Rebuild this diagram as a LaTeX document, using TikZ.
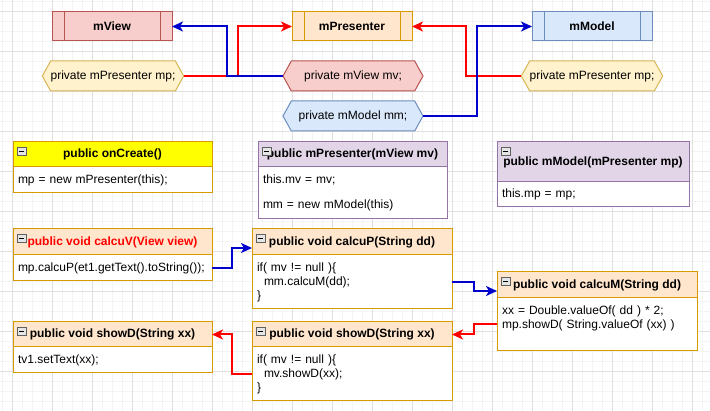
\documentclass[tikz,border=0pt]{standalone}
\usepackage{fontspec}
\setmainfont{Liberation Sans}
\usetikzlibrary{arrows.meta,shapes.symbols}
\definecolor{gridmaj}{HTML}{E0E0E0}
\definecolor{gridmin}{HTML}{F4F4F4}
\definecolor{redfill}{HTML}{F8CECC}
\definecolor{redline}{HTML}{B85450}
\definecolor{orfill}{HTML}{FFE6CC}
\definecolor{orline}{HTML}{D79B00}
\definecolor{bluefill}{HTML}{DAE8FC}
\definecolor{blueline}{HTML}{6C8EBF}
\definecolor{yelfill}{HTML}{FFF2CC}
\definecolor{yelline}{HTML}{D6B656}
\definecolor{purfill}{HTML}{E1D5E7}
\definecolor{purline}{HTML}{9673A6}
\definecolor{brightyel}{HTML}{FFFF00}
\definecolor{arrred}{HTML}{FF0000}
\definecolor{arrblue}{HTML}{0000CC}
\begin{document}
\begin{tikzpicture}[x=1pt,y=-1pt,
  every node/.style={font=\fontsize{12}{14}\selectfont, outer sep=0pt},
  procbox/.style={rectangle, draw, line width=1pt, minimum width=120, minimum height=29, anchor=north west, inner sep=0pt, font=\fontsize{12}{14}\selectfont\bfseries},
  hexbox/.style={signal, signal to=west and east, signal pointer angle=122, minimum width=140, minimum height=30, inner sep=0pt, line width=1pt, draw},
  hdr/.style={rectangle, draw, line width=1pt, anchor=north west, inner sep=0pt, font=\fontsize{12}{14}\selectfont\bfseries},
  bodybox/.style={rectangle, draw, line width=1pt, fill=white, anchor=north west, inner xsep=5pt, inner ysep=0pt, align=left},
  conn/.style={line width=2pt, -{Stealth[length=11pt,width=10pt,inset=3pt]}},
  minusicon/.style={draw=gray!75!black, fill=gray!20, line width=0.6pt}
]
\useasboundingbox (0,0) rectangle (710,411);
\fill[white] (0,0) rectangle (710,411);
% grid
\foreach \x in {2,12,...,702} \draw[gridmin, line width=0.8pt] (\x,0) -- (\x,411);
\foreach \y in {1,11,...,411} \draw[gridmin, line width=0.8pt] (0,\y) -- (710,\y);
\foreach \x in {12,52,...,692} \draw[gridmaj, line width=0.8pt] (\x,0) -- (\x,411);
\foreach \y in {11,51,...,411} \draw[gridmaj, line width=0.8pt] (0,\y) -- (710,\y);

% top row
\node[procbox, fill=redfill, draw=redline] (mview) at (52,12) {mView};
\node[procbox, fill=orfill, draw=orline] (mpres) at (292,12) {mPresenter};
\node[procbox, fill=bluefill, draw=blueline] (mmodel) at (532,12) {mModel};
\foreach \n/\c in {mview/redline, mpres/orline, mmodel/blueline}{
  \draw[draw=\c, line width=1pt] ([xshift=12pt]\n.north west) -- ([xshift=12pt]\n.south west);
  \draw[draw=\c, line width=1pt] ([xshift=-12pt]\n.north east) -- ([xshift=-12pt]\n.south east);
}

% hexagons
\node[hexbox, fill=yelfill, draw=yelline] (hexL) at (113,76) {private mPresenter mp;};
\node[hexbox, fill=redfill, draw=redline] (hexMV) at (353,76) {private mView mv;};
\node[hexbox, fill=bluefill, draw=blueline] (hexMM) at (353,116) {private mModel mm;};
\node[hexbox, fill=yelfill, draw=yelline] (hexR) at (592,76) {private mPresenter mp;};

% top connectors
\draw[conn, arrred] (hexL.east) -- ++(54,0) |- (mpres.west);
\draw[conn, arrblue] (hexMV.west) -- ++(-56,0) |- (mview.east);
\draw[conn, arrred] (hexR.west) -- ++(-55,0) |- (mpres.east);
\draw[conn, arrblue] (hexMM.east) -- ++(54,0) |- (mmodel.west);

% class boxes
\node[hdr, fill=brightyel, draw=orline, minimum width=199, minimum height=25] (onch) at (13,142) {public onCreate()};
\node[bodybox, draw=orline, text width=189pt, minimum height=26] (oncb) at (13,167) {mp = new mPresenter(this);};

\node[hdr, fill=purfill, draw=purline, minimum width=189, minimum height=25] (mpch) at (258,142) {public mPresenter(mView mv)};
\node[bodybox, draw=purline, text width=179pt, minimum height=52] (mpcb) at (258,167) {this.mv = mv;\\[11pt]mm = new mModel(this)};

\node[hdr, fill=purfill, draw=purline, minimum width=192, minimum height=40] (mmch) at (497,142) {public mModel(mPresenter mp)};
\node[bodybox, draw=purline, text width=182pt, minimum height=25] (mmcb) at (497,182) {this.mp = mp;};

\node[hdr, fill=orfill, draw=orline, minimum width=199, minimum height=26, text=arrred] (cvh) at (13,229) {public void calcuV(View view)};
\node[bodybox, draw=orline, text width=189pt, minimum height=26] (cvb) at (13,255) {mp.calcuP(et1.getText().toString());};

\node[hdr, fill=orfill, draw=orline, minimum width=200, minimum height=26] (cph) at (252,229) {public void calcuP(String dd)};
\node[bodybox, draw=orline, text width=190pt, minimum height=54] (cpb) at (252,255) {if( mv != null )\{\\\hspace*{7pt}mm.calcuM(dd);\\\}};

\node[hdr, fill=orfill, draw=orline, minimum width=200, minimum height=26] (cmh) at (497,272) {public void calcuM(String dd)};
\node[bodybox, draw=orline, text width=190pt, minimum height=53] (cmb) at (497,298) {xx = Double.valueOf( dd ) * 2;\\mp.showD( String.valueOf (xx) )\\\mbox{}};

\node[hdr, fill=orfill, draw=orline, minimum width=199, minimum height=25] (sdlh) at (13,322) {public void showD(String xx)};
\node[bodybox, draw=orline, text width=189pt, minimum height=26] (sdlb) at (13,347) {tv1.setText(xx);};

\node[hdr, fill=orfill, draw=orline, minimum width=200, minimum height=25] (sdmh) at (252,322) {public void showD(String xx)};
\node[bodybox, draw=orline, text width=190pt, minimum height=54] (sdmb) at (252,347) {if( mv != null )\{\\\hspace*{7pt}mv.showD(xx);\\\}};

% minus icons
\foreach \n in {onch, mpch, mmch, cvh, cph, cmh, sdlh, sdmh}{
  \draw[minusicon] ([shift={(4,5)}]\n.north west) rectangle ++(9,8);
  \draw[black, line width=0.8pt] ([shift={(6,9)}]\n.north west) -- ++(5,0);
}

% lower connectors
\draw[conn, arrblue] (cvb.east) -- ++(20,0) |- ([yshift=-6pt]cph.west);
\draw[conn, arrblue] (cpb.east) -- ++(22,0) |- ([yshift=-6pt]cmh.west);
\draw[conn, arrred] (cmb.west) -- ++(-23,0) |- (sdmh.east);
\draw[conn, arrred] (sdmb.west) -- ++(-20,0) |- (sdlh.east);
\end{tikzpicture}
\end{document}
